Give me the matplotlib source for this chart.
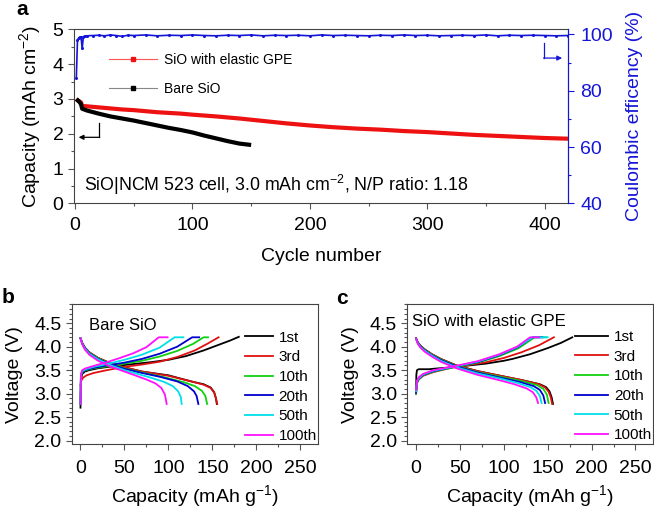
import matplotlib
matplotlib.use("Agg")
import matplotlib.pyplot as plt
from matplotlib.lines import Line2D
from matplotlib.ticker import MultipleLocator, FormatStrFormatter

plt.rcParams['font.family'] = ['Liberation Sans', 'DejaVu Sans']
plt.rcParams['mathtext.default'] = 'regular'

# ---- panel a: cycling ----
cyc_gpe = [1, 2, 3, 4, 5, 6, 10, 20, 30, 40, 50, 60, 70, 80, 90, 100, 120, 140, 160,
           180, 200, 220, 240, 260, 280, 300, 320, 340, 360, 380, 400, 420]
cap_gpe = [3.00, 2.96, 2.94, 2.92, 2.90, 2.80, 2.79, 2.76, 2.73, 2.70, 2.68, 2.65, 2.62,
           2.60, 2.58, 2.55, 2.50, 2.44, 2.37, 2.30, 2.24, 2.19, 2.15, 2.12, 2.08, 2.05,
           2.01, 1.97, 1.94, 1.91, 1.88, 1.86]

cyc_bare = [1, 2, 3, 4, 5, 6, 10, 20, 30, 40, 50, 60, 70, 80, 90, 100, 110, 120, 130, 140, 150]
cap_bare = [3.00, 2.97, 2.94, 2.90, 2.85, 2.72, 2.67, 2.58, 2.50, 2.44, 2.38, 2.31, 2.24,
            2.17, 2.11, 2.04, 1.95, 1.87, 1.79, 1.72, 1.68]

ce_cyc = [1, 2, 3, 4, 5, 6, 7, 8, 10, 15, 20, 25, 30, 35, 40, 45, 50,
          60, 70, 80, 90, 100, 110, 120, 130, 140, 150, 160, 170, 180, 190, 200,
          210, 220, 230, 240, 250, 260, 270, 280, 290, 300, 310, 320, 330, 340,
          350, 360, 370, 380, 390, 400, 410, 420]
ce_val = [84.5, 98.0, 98.8, 99.0, 99.1, 95.0, 99.2, 99.4, 99.5, 99.6, 99.7, 99.5, 99.8,
          99.6, 99.3, 99.7, 99.6,
          99.8, 99.5, 99.7, 99.6, 99.8, 99.6, 99.5, 99.7, 99.6, 99.8, 99.5, 99.7, 99.6,
          99.7, 99.5, 99.8, 99.6, 99.7, 99.6, 99.5, 99.7, 99.6, 99.8, 99.6, 99.7, 99.5,
          99.6, 99.7, 99.6, 99.8, 99.5, 99.7, 99.6, 99.7, 99.6, 99.5, 99.6]

# ---- panels b, c: voltage profiles ----
labels = ['1st', '3rd', '10th', '20th', '50th', '100th']
colors = ['#000000', '#e01010', '#10d010', '#0000d0', '#00e0ea', '#ff10ff']

# bare SiO, charge
b_chg_q = [
    [0, 0.5, 2, 5, 10, 20, 40, 60, 80, 100, 120, 140, 160, 170, 180],
    [0, 1, 3, 7, 15, 30, 50, 70, 90, 110, 130, 145, 157],
    [0, 0.5, 2, 6, 15, 30, 50, 70, 90, 110, 128, 140, 145],
    [0, 0.5, 2, 6, 15, 30, 50, 70, 90, 110, 127, 135],
    [0, 0.5, 2, 6, 15, 30, 50, 70, 90, 107, 117],
    [0, 0.5, 2, 6, 15, 30, 45, 60, 75, 89, 99],
]
b_chg_v = [
    [2.70, 3.30, 3.42, 3.47, 3.50, 3.54, 3.59, 3.63, 3.67, 3.72, 3.80, 3.92, 4.06, 4.13, 4.21],
    [3.18, 3.28, 3.34, 3.39, 3.44, 3.50, 3.57, 3.62, 3.68, 3.78, 3.92, 4.07, 4.20],
    [2.78, 3.35, 3.46, 3.50, 3.54, 3.58, 3.64, 3.70, 3.79, 3.91, 4.06, 4.20, 4.20],
    [2.78, 3.38, 3.47, 3.51, 3.55, 3.60, 3.66, 3.74, 3.85, 4.00, 4.20, 4.20],
    [2.78, 3.40, 3.48, 3.52, 3.57, 3.63, 3.72, 3.83, 3.98, 4.20, 4.20],
    [2.78, 3.42, 3.50, 3.54, 3.59, 3.67, 3.76, 3.86, 3.99, 4.20, 4.20],
]
# bare SiO, discharge
b_dis_q = [
    [0, 2, 5, 10, 20, 35, 50, 70, 100, 128, 140, 148, 152, 154, 155],
    [0, 2, 5, 10, 20, 35, 50, 70, 100, 128, 140, 148, 152, 154, 155.5],
    [0, 2, 5, 10, 20, 35, 50, 70, 95, 118, 130, 138, 142, 144],
    [0, 2, 5, 10, 20, 35, 50, 70, 90, 110, 122, 129, 132, 134],
    [0, 2, 5, 10, 20, 35, 50, 65, 80, 95, 105, 111, 114, 115],
    [0, 2, 5, 10, 20, 35, 50, 62, 75, 85, 92, 96, 98],
]
b_dis_v = [
    [4.18, 4.08, 3.98, 3.88, 3.76, 3.64, 3.56, 3.47, 3.39, 3.25, 3.20, 3.13, 3.03, 2.90, 2.78],
    [4.18, 4.08, 3.98, 3.88, 3.76, 3.64, 3.56, 3.47, 3.38, 3.25, 3.19, 3.12, 3.02, 2.90, 2.78],
    [4.18, 4.07, 3.97, 3.87, 3.75, 3.63, 3.54, 3.45, 3.35, 3.24, 3.16, 3.06, 2.95, 2.78],
    [4.18, 4.07, 3.97, 3.86, 3.74, 3.62, 3.53, 3.44, 3.36, 3.26, 3.16, 3.05, 2.95, 2.78],
    [4.18, 4.06, 3.96, 3.85, 3.73, 3.60, 3.50, 3.42, 3.34, 3.25, 3.16, 3.05, 2.93, 2.78],
    [4.18, 4.05, 3.94, 3.83, 3.70, 3.57, 3.47, 3.39, 3.30, 3.22, 3.12, 2.98, 2.78],
]

# SiO with elastic GPE, charge
c_chg_q = [
    [0, 0.3, 1, 3, 15, 20, 40, 60, 80, 100, 110, 130, 150, 165, 178],
    [0, 1, 3, 8, 20, 40, 60, 80, 100, 120, 140, 157],
    [0, 1, 3, 8, 20, 45, 70, 95, 117, 135, 148],
    [0, 1, 3, 8, 20, 45, 70, 95, 115, 133, 144],
    [0, 1, 3, 8, 20, 45, 70, 95, 115, 133, 150],
    [0, 1, 3, 8, 20, 45, 70, 95, 115, 130, 140],
]
c_chg_v = [
    [3.00, 3.40, 3.50, 3.52, 3.52, 3.53, 3.56, 3.60, 3.64, 3.70, 3.74, 3.84, 3.97, 4.08, 4.20],
    [3.00, 3.22, 3.30, 3.38, 3.46, 3.55, 3.61, 3.67, 3.76, 3.88, 4.03, 4.20],
    [3.00, 3.23, 3.31, 3.39, 3.47, 3.57, 3.66, 3.80, 3.97, 4.20, 4.20],
    [3.02, 3.24, 3.32, 3.40, 3.48, 3.58, 3.67, 3.82, 3.98, 4.20, 4.20],
    [3.05, 3.25, 3.33, 3.41, 3.49, 3.58, 3.68, 3.83, 3.99, 4.20, 4.20],
    [3.08, 3.27, 3.35, 3.42, 3.50, 3.59, 3.69, 3.84, 4.00, 4.20, 4.20],
]
# SiO with elastic GPE, discharge
c_dis_q = [
    [0, 2, 5, 10, 18, 28, 46, 70, 96, 120, 141, 148, 152, 154.5, 156],
    [0, 2, 5, 10, 18, 28, 46, 70, 96, 120, 140, 147, 151, 153.5, 155],
    [0, 2, 5, 10, 18, 28, 46, 70, 96, 120, 138, 145, 149, 151],
    [0, 2, 5, 10, 18, 28, 46, 70, 96, 118, 134, 141, 145, 147],
    [0, 2, 5, 10, 18, 28, 46, 70, 96, 115, 130, 137, 141, 143],
    [0, 2, 5, 10, 18, 28, 46, 70, 94, 112, 126, 133, 137, 139],
]
c_dis_v = [
    [4.18, 4.09, 4.02, 3.94, 3.84, 3.74, 3.60, 3.48, 3.38, 3.29, 3.20, 3.14, 3.05, 2.92, 2.78],
    [4.18, 4.09, 4.02, 3.94, 3.84, 3.74, 3.60, 3.48, 3.38, 3.29, 3.20, 3.13, 3.04, 2.92, 2.78],
    [4.17, 4.08, 4.01, 3.93, 3.83, 3.73, 3.59, 3.46, 3.36, 3.27, 3.18, 3.10, 2.98, 2.80],
    [4.17, 4.08, 4.00, 3.92, 3.82, 3.72, 3.58, 3.45, 3.34, 3.25, 3.16, 3.08, 2.96, 2.80],
    [4.17, 4.07, 3.99, 3.91, 3.81, 3.70, 3.56, 3.43, 3.32, 3.23, 3.14, 3.06, 2.95, 2.80],
    [4.17, 4.06, 3.98, 3.89, 3.79, 3.68, 3.54, 3.40, 3.29, 3.20, 3.11, 3.03, 2.92, 2.80],
]

RED = '#ee1111'
BLUE = '#1515d8'

fig = plt.figure(figsize=(6.54, 5.09), dpi=100)

ax = fig.add_axes([0.1131, 0.6002, 0.7554, 0.3422])
ax2 = ax.twinx()

ax.plot(cyc_gpe, cap_gpe, color=RED, lw=3.0, solid_capstyle='butt', zorder=3)
ax.plot(cyc_bare, cap_bare, color='black', lw=3.0, solid_capstyle='butt', zorder=4)
ax2.plot(ce_cyc, ce_val, color=BLUE, lw=1.2, marker='o', ms=2.2, mew=0)

ax.set_xlim(-1, 420)
ax.set_ylim(0, 5)
ax2.set_ylim(40, 101.8)
ax.xaxis.set_major_locator(MultipleLocator(100))
ax.xaxis.set_minor_locator(MultipleLocator(50))
ax.yaxis.set_major_locator(MultipleLocator(1))
ax.yaxis.set_minor_locator(MultipleLocator(0.5))
ax2.yaxis.set_major_locator(MultipleLocator(20))
ax2.yaxis.set_minor_locator(MultipleLocator(10))

ax.tick_params(which='both', direction='out', labelsize=14, width=0.8, color='#555555')
ax.tick_params(which='major', length=4)
ax.tick_params(which='minor', length=2.5)
ax.tick_params(axis='x', which='major', pad=5.5)
ax2.tick_params(which='both', direction='out', labelsize=14, colors=BLUE, width=0.8)
ax2.tick_params(which='major', length=4, pad=5)
ax2.tick_params(which='minor', length=2.5)
for s in ['left', 'bottom', 'top']:
    ax.spines[s].set_color('#444444')
ax2.spines['right'].set_color(BLUE)
ax2.spines['left'].set_visible(False)
ax2.spines['top'].set_visible(False)
ax2.spines['bottom'].set_visible(False)

ax.set_xlabel('Cycle number', fontsize=14, labelpad=10)
ax.set_ylabel('Capacity (mAh cm$^{-2}$)', fontsize=14, labelpad=7)
ax2.set_ylabel('Coulombic efficency (%)', fontsize=14, color=BLUE, labelpad=9)

handles = [Line2D([], [], color='#ff5555', lw=0.8, marker='s', ms=2.5, mfc=RED, mec=RED),
           Line2D([], [], color='#888888', lw=0.8, marker='s', ms=2.5, mfc='black', mec='black')]
ax.legend(handles, ['SiO with elastic GPE', 'Bare SiO'], loc='upper left',
          bbox_to_anchor=(0.07, 0.863), frameon=False, fontsize=10, borderaxespad=0,
          handlelength=3.5, handletextpad=0.5, labelspacing=1.05, borderpad=0)

ax.text(7.5, 0.52, 'SiO|NCM 523 cell, 3.0 mAh cm$^{-2}$, N/P ratio: 1.18',
        fontsize=12.8, va='center', ha='left')

# L-shaped arrows
ax.plot([20.5, 20.5], [2.32, 1.90], color='black', lw=0.9)
ax.annotate('', xy=(3, 1.90), xytext=(20.9, 1.90),
            arrowprops=dict(arrowstyle='-|>', color='black', lw=0.9,
                            mutation_scale=7, shrinkA=0, shrinkB=0))
ax2.plot([399.5, 399.5], [96.9, 91.6], color=BLUE, lw=0.9)
ax2.annotate('', xy=(415, 91.6), xytext=(399.1, 91.6),
             arrowprops=dict(arrowstyle='-|>', color=BLUE, lw=0.9,
                             mutation_scale=7, shrinkA=0, shrinkB=0))


def profile_panel(pos, chg_q, chg_v, dis_q, dis_v, title, leg_anchor, hlen):
    a = fig.add_axes(pos)
    for i in range(len(labels)):
        a.plot(chg_q[i], chg_v[i], color=colors[i], lw=1.3, label=labels[i])
        a.plot(dis_q[i], dis_v[i], color=colors[i], lw=1.3)
    a.set_xlim(-10, 270)
    a.set_ylim(1.92, 4.91)
    a.xaxis.set_major_locator(MultipleLocator(50))
    a.xaxis.set_minor_locator(MultipleLocator(25))
    a.yaxis.set_major_locator(MultipleLocator(0.5))
    a.yaxis.set_minor_locator(MultipleLocator(0.1))
    a.yaxis.set_major_formatter(FormatStrFormatter('%.1f'))
    a.tick_params(which='both', direction='out', labelsize=14, width=0.8, color='#555555')
    a.tick_params(which='major', length=4)
    a.tick_params(which='minor', length=2)
    a.tick_params(axis='x', which='major', pad=7)
    for s in a.spines.values():
        s.set_color('#444444')
    a.set_xlabel('Capacity (mAh g$^{-1}$)', fontsize=14, labelpad=4.5)
    a.set_ylabel('Voltage (V)', fontsize=14, labelpad=8)
    a.text(title[1], title[2], title[0], fontsize=12, va='center', ha='left')
    a.legend(loc='upper left', bbox_to_anchor=leg_anchor, frameon=False, fontsize=11,
             handlelength=hlen, handletextpad=0.4, labelspacing=0.37, borderpad=0,
             borderaxespad=0)
    return a


profile_panel([0.1096, 0.1271, 0.3766, 0.2757], b_chg_q, b_chg_v, b_dis_q, b_dis_v,
              ('Bare SiO', 9.5, 4.46), (0.704, 0.81), 1.8)
profile_panel([0.6228, 0.1271, 0.3757, 0.2757], c_chg_q, c_chg_v, c_dis_q, c_dis_v,
              ('SiO with elastic GPE', -5, 4.53), (0.682, 0.815), 2.15)

fig.text(0.0245, 0.9705, 'a', fontsize=15, fontweight='bold')
fig.text(0.003, 0.4047, 'b', fontsize=15, fontweight='bold')
fig.text(0.514, 0.4028, 'c', fontsize=15, fontweight='bold')

fig.savefig('out.png', dpi=100)
